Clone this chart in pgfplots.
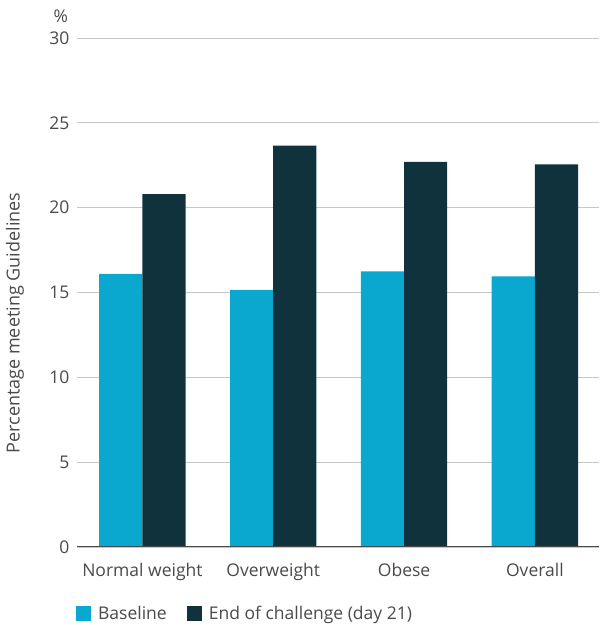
\documentclass[border=0pt]{standalone}
\usepackage{fontspec}
\setmainfont{Open Sans}
\usepackage{pgfplots}
\pgfplotsset{compat=1.18}
\definecolor{base}{HTML}{0AA8CE}
\definecolor{endc}{HTML}{0F323D}
\definecolor{txt}{HTML}{4A4A4A}
\begin{document}
\begin{tikzpicture}[font=\fontsize{17.5}{21}\selectfont]
\begin{axis}[
  scale only axis, width=522pt, height=509pt,
  xmin=-0.5, xmax=3.49, ymin=0, ymax=30,
  ytick={0,5,...,30}, xtick={0,1,2,3},
  xticklabels={Normal weight, Overweight, Obese, Overall},
  /pgf/number format/assume math mode=true,
  axis line style={draw=none},
  major tick length=0pt,
  ymajorgrids, grid style={color=black!22, line width=0.8pt},
  tick label style={text=txt},
  yticklabel style={xshift=-4pt},
  xticklabel style={yshift=-13pt},
  ylabel={\fontsize{18}{21}\selectfont Percentage meeting Guidelines},
  ylabel style={at={(axis description cs:-0.119,0.44)}, anchor=center, text=txt},
  legend style={at={(axis description cs:-0.002,-0.13)}, anchor=west, draw=none, fill=none,
    legend columns=2, inner sep=0pt, text=txt,
    /tikz/every odd column/.append style={column sep=5pt},
    /tikz/every even column/.append style={column sep=18pt}},
  legend image code/.code={\fill[#1] (0pt,-7.5pt) rectangle (15pt,7.5pt);},
  clip=false,
]
\addplot[ybar, bar width=0.33, bar shift=-0.165, fill=base, draw=none]
  coordinates {(0,16.1) (1,15.15) (2,16.25) (3,15.95)};
\addlegendentry{Baseline}
\addplot[ybar, bar width=0.33, bar shift=0.165, fill=endc, draw=none]
  coordinates {(0,20.8) (1,23.65) (2,22.7) (3,22.55)};
\addlegendentry{End of challenge (day 21)}
\draw[txt, line width=1pt] (axis cs:-0.5,0) -- (axis cs:3.49,0);
\node[txt, anchor=south] at (axis description cs:-0.031,1.024) {\%};
\coordinate (sw) at (rel axis cs:0,0);
\coordinate (ne) at (rel axis cs:1,1);
\end{axis}
\pgfresetboundingbox
\path ([shift={(-77pt,-78pt)}]sw) rectangle ([shift={(0pt,38pt)}]ne);
\end{tikzpicture}
\end{document}
